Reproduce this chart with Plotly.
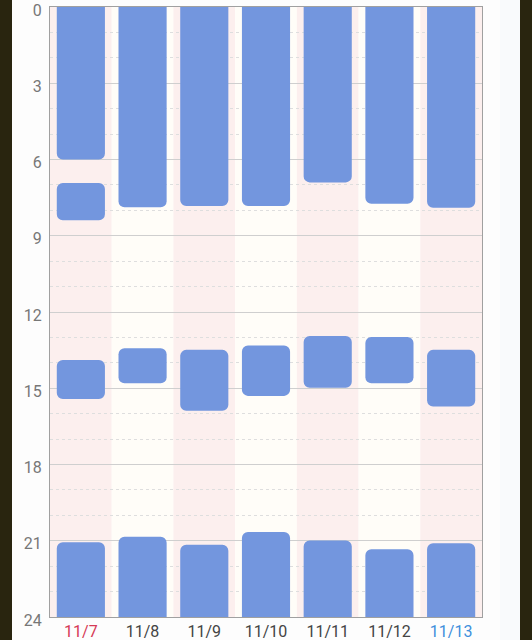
import plotly.graph_objects as go

days = ["11/7", "11/8", "11/9", "11/10", "11/11", "11/12", "11/13"]
day_colors = ["#d63a55", "#444444", "#444444", "#444444", "#444444", "#444444", "#3f8fdc"]

# sleep segments (hours of day)
morning_end = [6.0, 7.88, 7.83, 7.83, 6.9, 7.74, 7.9]          # from 0:00 (continues from previous night)
extra_start = [6.92]                                            # extra sleep on 11/7
extra_end = [8.39]
extra_day = ["11/7"]
nap_start = [13.89, 13.43, 13.49, 13.32, 12.94, 12.98, 13.49]
nap_end = [15.42, 14.80, 15.89, 15.30, 14.98, 14.80, 15.72]
night_start = [21.06, 20.84, 21.16, 20.66, 20.99, 21.33, 21.10]  # to 24:00 (continues into next day)

BAR = "#7396de"
WIDTH = 0.78
OVERRUN = 1  # segments that continue past the day edge are drawn past the clipped axis range

fig = go.Figure()

def add(x, base, y, radius=6):
    fig.add_trace(go.Bar(x=x, base=base, y=y,
                         marker=dict(color=BAR, line=dict(width=0), cornerradius=radius, opacity=1),
                         width=WIDTH, showlegend=False, hoverinfo="skip"))

add(days, [0 - OVERRUN] * len(days), [e + OVERRUN for e in morning_end])
add(days, night_start, [24 + OVERRUN - s for s in night_start])
add(days, nap_start, [b - a for a, b in zip(nap_start, nap_end)])
add(extra_day, extra_start, [b - a for a, b in zip(extra_start, extra_end)])

shapes = []
for i in range(len(days)):
    shapes.append(dict(type="rect", xref="x", yref="paper", x0=i - 0.5, x1=i + 0.5, y0=0, y1=1,
                       fillcolor="#fcefee" if i % 2 == 0 else "#fffdf8", line=dict(width=0), layer="below"))
# device edges
shapes.append(dict(type="rect", xref="paper", yref="paper", x0=(0 - 50) / 432, x1=(12 - 50) / 432,
                   y0=-23 / 610, y1=1 + 7 / 610, fillcolor="#29250f", line=dict(width=0), layer="above"))
shapes.append(dict(type="rect", xref="paper", yref="paper", x0=(520 - 50) / 432, x1=(532 - 50) / 432,
                   y0=-23 / 610, y1=1 + 7 / 610, fillcolor="#29250f", line=dict(width=0), layer="above"))
shapes.append(dict(type="rect", xref="paper", yref="paper", x0=(500 - 50) / 432, x1=(520 - 50) / 432,
                   y0=-23 / 610, y1=1 + 7 / 610, fillcolor="#f9fafc", line=dict(width=0), layer="below"))

ticktext = [f"<span style='color:{c}'>{d}</span>" for d, c in zip(days, day_colors)]
hour_ticks = [0, 3, 6, 9, 12, 15, 18, 21, 24]

fig.update_layout(
    width=532, height=640,
    margin=dict(l=50, r=50, t=7, b=23, autoexpand=False),
    paper_bgcolor="#fdfdfd", plot_bgcolor="#fdfdfd",
    barmode="overlay",
    shapes=shapes,
    font=dict(family="Roboto", size=16, color="#777777"),
    xaxis=dict(range=[-0.5, 6.5], tickmode="array", tickvals=days, ticktext=ticktext,
               showgrid=False, showline=True, mirror=True, linecolor="#a0a0a0", linewidth=1,
               ticks="", fixedrange=True, ticklabelstandoff=0, automargin=False,
               ticklabeloverflow="allow"),
    yaxis=dict(range=[24, 0], autorange=False, tickmode="array", tickvals=hour_ticks,
               ticktext=[str(h) for h in hour_ticks],
               showgrid=True, gridcolor="#cfcfcf", gridwidth=1,
               minor=dict(dtick=1, tick0=0, showgrid=True, gridcolor="#dedede", griddash="3px,3px", gridwidth=1),
               showline=True, mirror=True, linecolor="#a0a0a0", linewidth=1, zeroline=False,
               ticks="", ticklabelstandoff=4, ticklabelshift=-3, automargin=False, ticklabeloverflow="allow",
               fixedrange=True),
)

fig.write_html("out.html", config={"displayModeBar": False, "staticPlot": True},
               post_script="document.body.style.margin='0';document.body.style.overflow='hidden';")
